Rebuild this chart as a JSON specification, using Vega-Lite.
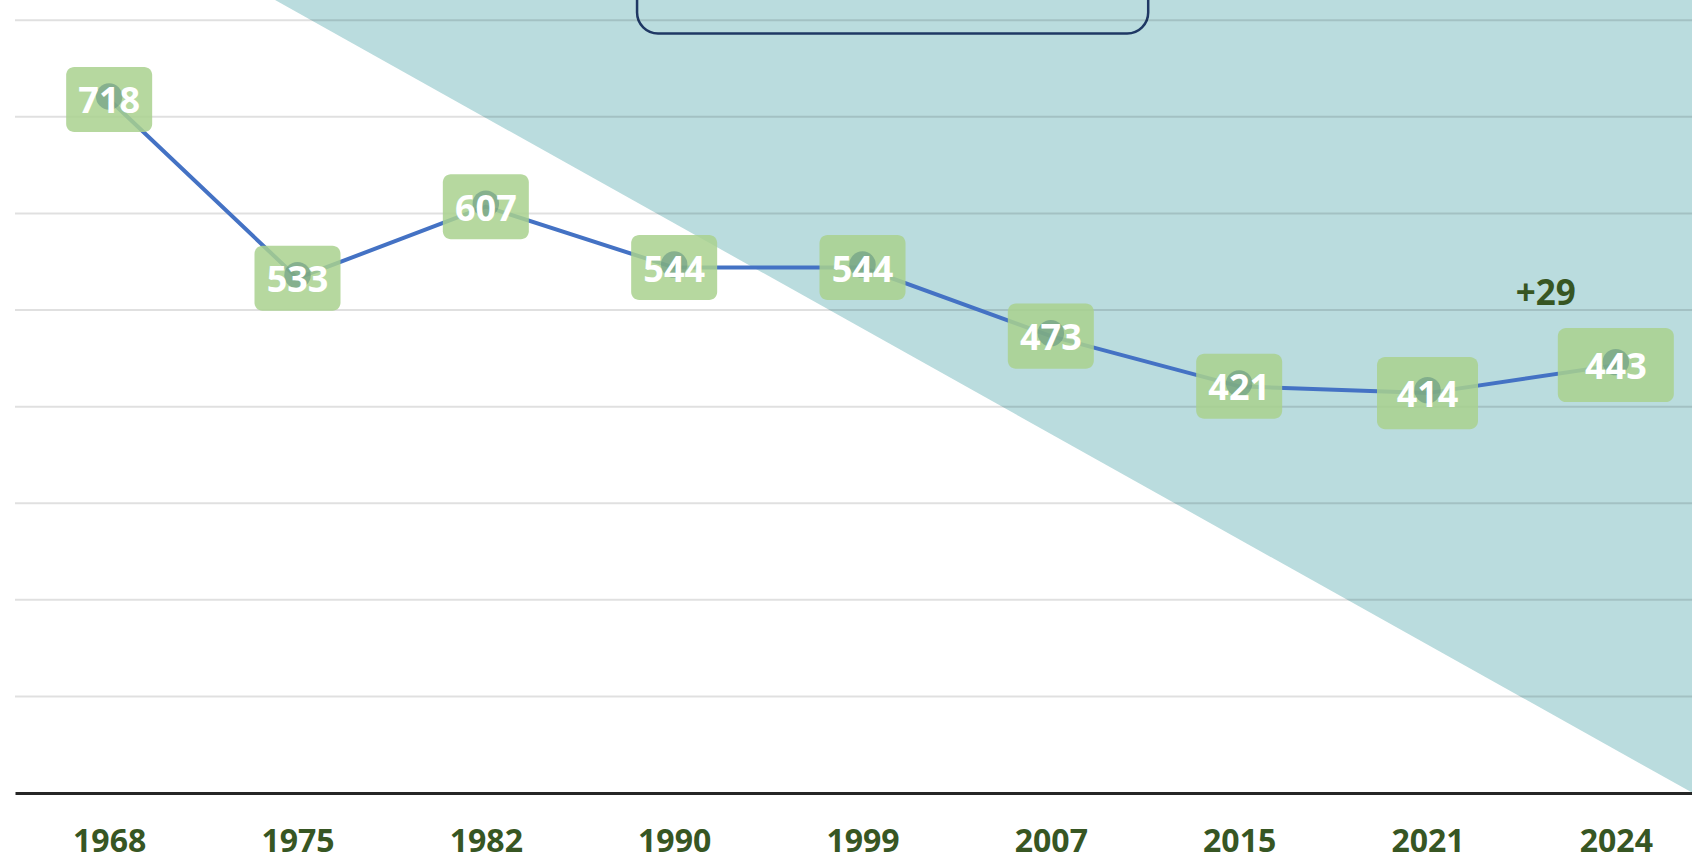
{
  "$schema": "https://vega.github.io/schema/vega-lite/v6.json",
  "width": 1695,
  "height": 793,
  "autosize": {"type": "none"},
  "padding": {"left": 15, "top": 0, "right": 0, "bottom": 66},
  "background": "white",
  "config": {"view": {"stroke": null}},
  "datasets": {
    "series": [
      {"year": "1968", "value": 718},
      {"year": "1975", "value": 533},
      {"year": "1982", "value": 607},
      {"year": "1990", "value": 544},
      {"year": "1999", "value": 544},
      {"year": "2007", "value": 473},
      {"year": "2015", "value": 421},
      {"year": "2021", "value": 414},
      {"year": "2024", "value": 443}
    ],
    "diagonal": [
      {"u": 1.381, "v": 821},
      {"u": 9, "v": -10}
    ],
    "box": [
      {"u0": 3.303, "u1": 6.017, "v0": 786.3, "v1": 900}
    ],
    "grid": [
      {"v": 100}, {"v": 200}, {"v": 300}, {"v": 400},
      {"v": 500}, {"v": 600}, {"v": 700}, {"v": 800}
    ],
    "note": [
      {"year": "2024", "value": 443, "label": "+29"}
    ]
  },
  "resolve": {"scale": {"x": "independent"}},
  "layer": [
    {
      "data": {"name": "diagonal"},
      "mark": {"type": "area", "color": "#badcde", "clip": true, "opacity": 1},
      "encoding": {
        "x": {"field": "u", "type": "quantitative", "scale": {"domain": [0, 9], "nice": false, "zero": false}, "axis": null},
        "y": {"field": "v", "type": "quantitative", "scale": {"domain": [0, 821], "nice": false}, "axis": null},
        "y2": {"datum": 821}
      }
    },
    {
      "data": {"name": "box"},
      "mark": {"type": "rect", "clip": true, "fill": "transparent", "stroke": "#1f3864", "strokeWidth": 2.5, "cornerRadius": 21},
      "encoding": {
        "x": {"field": "u0", "type": "quantitative", "scale": {"domain": [0, 9], "nice": false, "zero": false}, "axis": null},
        "x2": {"field": "u1"},
        "y": {"field": "v0", "type": "quantitative"},
        "y2": {"field": "v1"}
      }
    },
    {
      "data": {"name": "grid"},
      "mark": {"type": "rule", "color": "#000000", "opacity": 0.12, "strokeWidth": 2},
      "encoding": {
        "y": {"field": "v", "type": "quantitative"}
      }
    },
    {
      "layer": [
        {
          "data": {"name": "series"},
          "mark": {"type": "line", "color": "#4472c4", "strokeWidth": 4},
          "encoding": {
            "x": {
              "field": "year", "type": "ordinal",
              "scale": {"type": "point", "padding": 0.5},
              "axis": {
                "title": null, "ticks": false, "tickSize": 0, "grid": false,
                "domainColor": "#262626", "domainWidth": 3, "zindex": 1,
                "labelFont": "Open Sans", "labelFontSize": 32, "labelFontWeight": "bold",
                "labelColor": "#375623", "labelPadding": 33, "labelAngle": 0
              }
            },
            "y": {"field": "value", "type": "quantitative"}
          }
        },
        {
          "data": {"name": "series"},
          "transform": [{"filter": "datum.year != '2021' && datum.year != '2024'"}],
          "mark": {
            "type": "point", "filled": true, "color": "#a9d18e", "opacity": 0.85,
            "shape": "M -0.814 -0.756 L 0.814 -0.756 A 0.186 0.186 0 0 1 1 -0.57 L 1 0.57 A 0.186 0.186 0 0 1 0.814 0.756 L -0.814 0.756 A 0.186 0.186 0 0 1 -1 0.57 L -1 -0.57 A 0.186 0.186 0 0 1 -0.814 -0.756 Z",
            "size": 7396
          },
          "encoding": {
            "x": {"field": "year", "type": "ordinal"},
            "y": {"field": "value", "type": "quantitative"}
          }
        },
        {
          "data": {"name": "series"},
          "transform": [{"filter": "datum.year == '2021'"}],
          "mark": {
            "type": "point", "filled": true, "color": "#a9d18e", "opacity": 0.85,
            "shape": "M -0.84 -0.713 L 0.84 -0.713 A 0.16 0.16 0 0 1 1 -0.553 L 1 0.553 A 0.16 0.16 0 0 1 0.84 0.713 L -0.84 0.713 A 0.16 0.16 0 0 1 -1 0.553 L -1 -0.553 A 0.16 0.16 0 0 1 -0.84 -0.713 Z",
            "size": 10201
          },
          "encoding": {
            "x": {"field": "year", "type": "ordinal"},
            "y": {"field": "value", "type": "quantitative"}
          }
        },
        {
          "data": {"name": "series"},
          "transform": [{"filter": "datum.year == '2024'"}],
          "mark": {
            "type": "point", "filled": true, "color": "#a9d18e", "opacity": 0.85,
            "shape": "M -0.86 -0.638 L 0.86 -0.638 A 0.14 0.14 0 0 1 1 -0.498 L 1 0.498 A 0.14 0.14 0 0 1 0.86 0.638 L -0.86 0.638 A 0.14 0.14 0 0 1 -1 0.498 L -1 -0.498 A 0.14 0.14 0 0 1 -0.86 -0.638 Z",
            "size": 13456
          },
          "encoding": {
            "x": {"field": "year", "type": "ordinal"},
            "y": {"field": "value", "type": "quantitative"}
          }
        },
        {
          "data": {"name": "series"},
          "mark": {"type": "point", "filled": true, "shape": "circle", "color": "#5f8f80", "opacity": 0.55, "size": 700, "yOffset": -3},
          "encoding": {
            "x": {"field": "year", "type": "ordinal"},
            "y": {"field": "value", "type": "quantitative"}
          }
        },
        {
          "data": {"name": "series"},
          "mark": {"type": "text", "font": "Open Sans", "fontSize": 36, "fontWeight": "bold", "color": "white", "baseline": "middle", "align": "center", "dy": 3},
          "encoding": {
            "x": {"field": "year", "type": "ordinal"},
            "y": {"field": "value", "type": "quantitative"},
            "text": {"field": "value", "type": "quantitative"}
          }
        },
        {
          "data": {"name": "note"},
          "mark": {"type": "text", "font": "Open Sans", "fontSize": 35, "fontWeight": "bold", "color": "#375623", "baseline": "middle", "align": "center", "dx": -70, "dy": -71},
          "encoding": {
            "x": {"field": "year", "type": "ordinal"},
            "y": {"field": "value", "type": "quantitative"},
            "text": {"field": "label", "type": "nominal"}
          }
        }
      ]
    }
  ]
}
